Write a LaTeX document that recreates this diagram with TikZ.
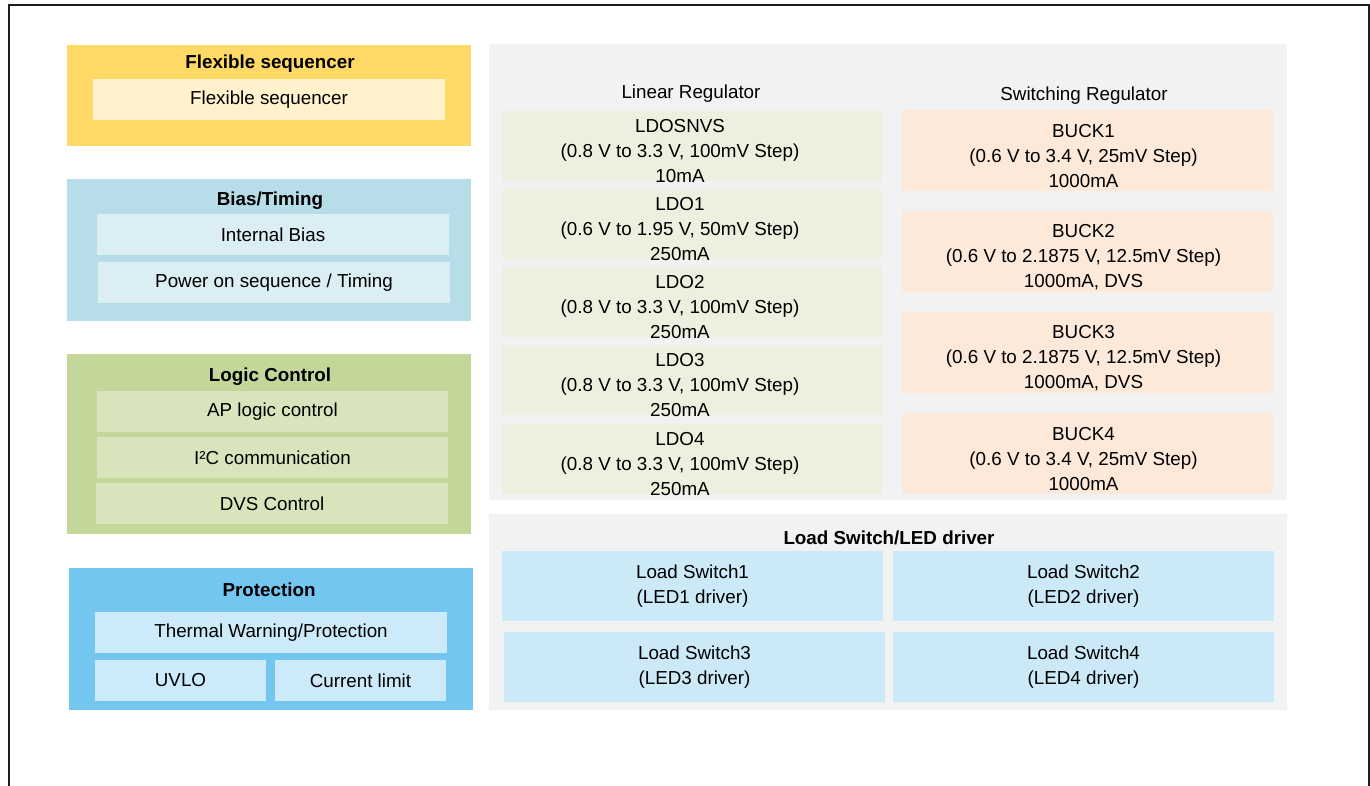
\documentclass[tikz,border=0pt]{standalone}
\usepackage{fontspec}
\setmainfont{Liberation Sans}

\definecolor{frameln}{HTML}{1E1E1E}
\definecolor{seqout}{HTML}{FFD966}
\definecolor{seqin}{HTML}{FFF2CC}
\definecolor{biasout}{HTML}{B7DDE8}
\definecolor{biasin}{HTML}{DAEEF3}
\definecolor{logout}{HTML}{C4D79B}
\definecolor{login}{HTML}{D8E4BC}
\definecolor{protout}{HTML}{72C6F0}
\definecolor{protin}{HTML}{CCEAF9}
\definecolor{panel}{HTML}{F2F2F2}
\definecolor{ldofill}{HTML}{EBF1DE}
\definecolor{buckfill}{HTML}{FCE9DA}
\definecolor{lsfill}{HTML}{CCE9F8}

\tikzset{
  blk/.style 2 args={inner sep=0pt,minimum width=#1pt,minimum height=#2pt},
  lbl/.style={inner sep=0pt,align=center,text=black,font=\fontsize{18.8}{24.7}\selectfont},
  ttl/.style={lbl,font=\fontsize{18.8}{24.7}\selectfont\bfseries},
}

\begin{document}
\begin{tikzpicture}[x=1pt,y=-1pt]
  \useasboundingbox (0,0) rectangle (1370,786);
  % frame, open at the bottom
  \draw[line width=2pt,color=frameln] (9,800) -- (9,5) -- (1368.5,5) -- (1368.5,800);

  % flexible sequencer
  \node[blk={404}{101},fill=seqout] (seq) at (269,95.5) {};
  \node[ttl] (seqttl) at (270,64) {Flexible sequencer};
  \node[blk={352}{41},fill=seqin,lbl] (seqin) at (269,99.5) {Flexible sequencer};

  % bias / timing
  \node[blk={404}{142},fill=biasout] (bias) at (269,250) {};
  \node[ttl] (biasttl) at (270,201) {Bias/Timing};
  \node[blk={352}{41},fill=biasin,lbl] (ibias) at (273,234.5) {Internal Bias};
  \node[blk={352}{41},fill=biasin,lbl] (pwron) at (274,282.5) {Power on sequence / Timing};

  % logic control
  \node[blk={404}{180},fill=logout] (logic) at (269,444) {};
  \node[ttl] (logicttl) at (270,377) {Logic Control};
  \node[blk={351}{41},fill=login,lbl] (aplogic) at (272.5,411.5) {AP logic control};
  \node[blk={351}{41},fill=login,lbl] (iic) at (272.5,457.5) {I²C communication};
  \node[blk={352}{41},fill=login,lbl] (dvsctl) at (272,503.5) {DVS Control};

  % protection
  \node[blk={404}{142},fill=protout] (prot) at (271,639) {};
  \node[ttl] (protttl) at (269,590) {Protection};
  \node[blk={352}{41},fill=protin,lbl] (thermal) at (271,632.5) {Thermal Warning/Protection};
  \node[blk={171}{41},fill=protin,lbl] (uvlo) at (180.5,680.5) {UVLO};
  \node[blk={171}{41},fill=protin,lbl] (ilimit) at (360.5,680.5) {Current limit};

  % regulators
  \node[blk={798}{456},fill=panel] (reg) at (888,272) {};
  \node[lbl] (linttl) at (691,94) {Linear Regulator};
  \node[lbl] (swttl) at (1084,96) {Switching Regulator};
  \foreach \nm/\lab/\yy/\vr/\ma in {
      ldosnvs/LDOSNVS/146/{(0.8 V to 3.3 V, 100mV Step)}/10mA,
      ldo1/LDO1/224/{(0.6 V to 1.95 V, 50mV Step)}/250mA,
      ldo2/LDO2/302/{(0.8 V to 3.3 V, 100mV Step)}/250mA,
      ldo3/LDO3/380/{(0.8 V to 3.3 V, 100mV Step)}/250mA,
      ldo4/LDO4/459/{(0.8 V to 3.3 V, 100mV Step)}/250mA}{
    \node[blk={380}{70},fill=ldofill] (\nm) at (692,\yy) {};
    \node[lbl] (\nm-t) at ([xshift=-12pt,yshift=-5pt]\nm.center) {\lab\\\vr\\\ma};
  }
  \foreach \nm/\lab/\yy/\vr/\ma in {
      buck1/BUCK1/150.5/{(0.6 V to 3.4 V, 25mV Step)}/1000mA,
      buck2/BUCK2/251.5/{(0.6 V to 2.1875 V, 12.5mV Step)}/{1000mA, DVS},
      buck3/BUCK3/352.5/{(0.6 V to 2.1875 V, 12.5mV Step)}/{1000mA, DVS},
      buck4/BUCK4/453.5/{(0.6 V to 3.4 V, 25mV Step)}/1000mA}{
    \node[blk={371}{81},fill=buckfill] (\nm) at (1087.5,\yy) {};
    \node[lbl] (\nm-t) at ([xshift=-4pt,yshift=-5.5pt]\nm.center) {\lab\\\vr\\\ma};
  }

  % load switches
  \node[blk={798}{196},fill=panel] (load) at (888,612) {};
  \node[ttl] (loadttl) at (889,538) {Load Switch/LED driver};
  \node[blk={381}{70},fill=lsfill,lbl] (ls1) at (692.5,586) {Load Switch1\\(LED1 driver)};
  \node[blk={381}{70},fill=lsfill,lbl] (ls2) at (1083.5,586) {Load Switch2\\(LED2 driver)};
  \node[blk={381}{70},fill=lsfill,lbl] (ls3) at (694.5,667) {Load Switch3\\(LED3 driver)};
  \node[blk={381}{70},fill=lsfill,lbl] (ls4) at (1083.5,667) {Load Switch4\\(LED4 driver)};
\end{tikzpicture}
\end{document}
